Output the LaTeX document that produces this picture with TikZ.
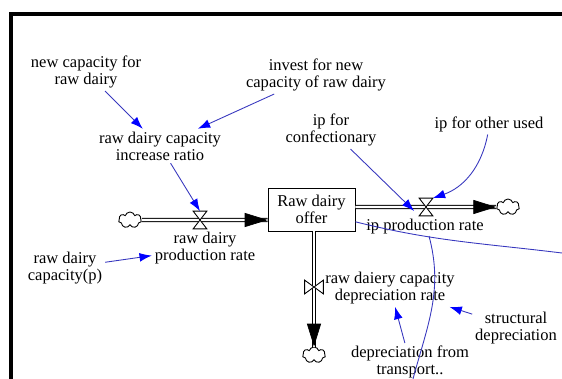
\documentclass[tikz,border=0pt]{standalone}
\usepackage{fontspec}
\setmainfont{Liberation Serif}
\newfontfamily\diagfont{Liberation Serif}
\usetikzlibrary{arrows.meta,calc,shapes.symbols}

\definecolor{linkblue}{RGB}{55,55,190}

\begin{document}
\begin{tikzpicture}[x=0.02cm,y=-0.02cm,
        every node/.style={font=\diagfont\fontsize{9.4}{9.6}\selectfont},
        var/.style={align=center,inner sep=1.5pt},
        stock/.style={draw,line width=0.5pt,minimum width=1.74cm,minimum height=0.86cm,align=center},
        cloudy/.style={cloud,draw,line width=0.5pt,cloud puffs=7,aspect=1.4,minimum width=0.46cm,minimum height=0.32cm,inner sep=0pt},
        valve/.style={minimum width=0.26cm,minimum height=0.34cm,inner sep=0pt},
        vvalve/.style={minimum width=0.36cm,minimum height=0.26cm,inner sep=0pt},
        pipe/.style={double,double distance=1.2pt,line width=0.6pt},
        flowtip/.style={-{Triangle[length=13pt,width=8pt]}},
        link/.style={draw=linkblue,line width=0.5pt,-{Latex[length=7pt,width=5pt,color=blue]}}]
        \useasboundingbox (0,0) rectangle (562,379);

        % frame of the window
        \draw[line width=2.2pt] (11,379) -- (11,14) -- (562,14);

        % auxiliaries and the stock
        \node[var] (ncap) at (86,72) {new capacity for\\raw dairy};
        \node[var] (invest) at (316,75) {invest for new\\capacity of raw dairy};
        \node[var] (ratio) at (160,146) {raw dairy capacity\\increase ratio};
        \node[var] (conf) at (331,130) {ip for\\confectionary};
        \node[var] (other) at (489,124) {ip for other used};
        \node[stock] (offer) at (311.5,209.5) {Raw dairy\\offer};
        \node[var] (rdrate) at (205,248) {raw dairy\\production rate};
        \node[var] (rdcap) at (65,268) {raw dairy\\capacity(p)};
        \node[var] (iprate) at (425,227) {ip production rate};
        \node[var] (deprate) at (390,288) {raw daiery capacity\\depreciation rate};
        \node[var] (struct) at (516,328) {structural\\depreciation};
        \node[var] (transp) at (410,362) {depreciation from\\transport..};

        % sources, sinks and valves
        \node[cloudy] (cl1) at (130,220) {};
        \node[cloudy] (cl2) at (508,207) {};
        \node[cloudy] (cl3) at (314,355) {};
        \node[valve] (v1) at (200,220) {};
        \node[valve] (v2) at (426,207) {};
        \node[vvalve] (v3) at (314,287) {};

        % pipes of the flows
        \coordinate (in1) at (offer.west |- cl1);
        \coordinate (out2) at (offer.east |- cl2);
        \coordinate (out3) at (offer.south -| cl3);
        \draw[pipe] (cl1) -- (in1);
        \draw[pipe] (out2) -- (cl2);
        \draw[pipe] (out3) -- (cl3);

        \foreach \v in {v1,v2}{
            \filldraw[fill=white,line width=0.5pt] (\v.north west) -- (\v.north east) -- (\v.south west) -- (\v.south east) -- cycle;
        }
        \filldraw[fill=white,line width=0.5pt] (v3.north west) -- (v3.south west) -- (v3.north east) -- (v3.south east) -- cycle;

        \draw[flowtip] ($(in1)+(-2,0)$) -- (in1);
        \draw[flowtip] ($(cl2.west)+(-2,0)$) -- (cl2.west);
        \draw[flowtip] ($(cl3.north)+(0,-2)$) -- (cl3.north);

        % information links
        \draw[link] (ncap) -- (ratio);
        \draw[link] (invest) -- (ratio);
        \draw[link] (ratio) -- (v1.north);
        \draw[link] (rdcap) -- (rdrate);
        \draw[link,shorten >=4pt] (conf) -- (v2.south west);
        \draw[link] (other) to[bend left=30] (v2.north east);
        \draw[link] (transp) -- (deprate);
        \draw[link] (struct) -- (deprate);

        % links that leave the window
        \coordinate (eR) at (562,253);
        \coordinate (b1) at (429,236);
        \coordinate (b2) at (413,379);
        \draw[linkblue,line width=0.5pt] ([yshift=-7pt]offer.east) to[out=-14,in=173] (eR);
        \draw[linkblue,line width=0.5pt] (b1) to[out=-75,in=75] (b2);

    \end{tikzpicture}
\end{document}
